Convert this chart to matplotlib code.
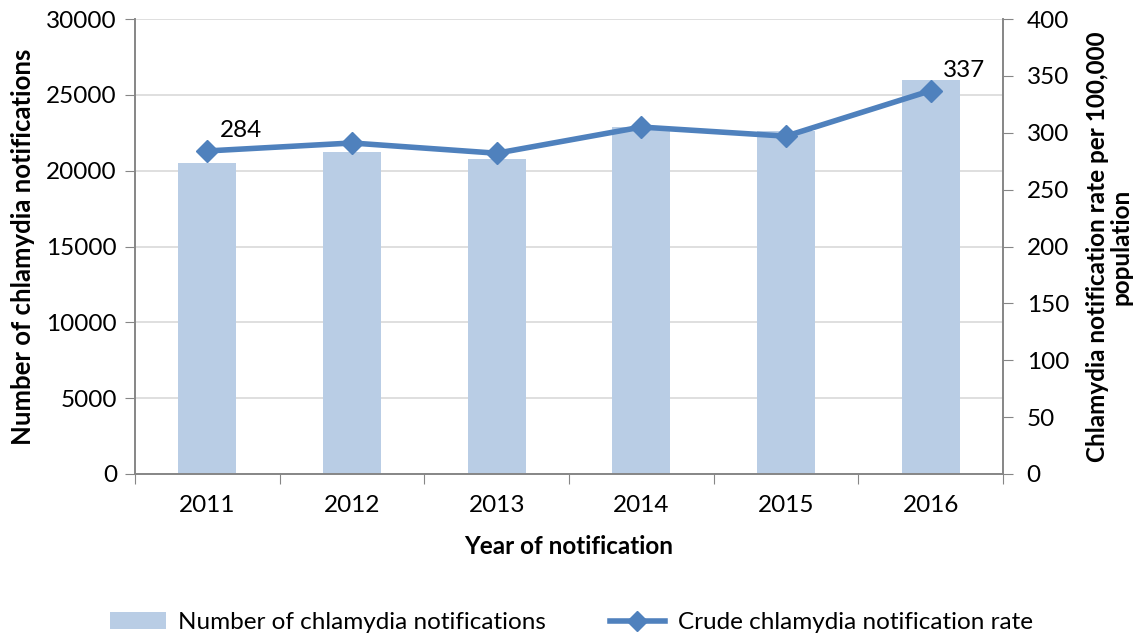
import numpy as np
import matplotlib
matplotlib.use("Agg")
import matplotlib.pyplot as plt
from matplotlib.lines import Line2D
from matplotlib.patches import Patch

# data
years = ["2011", "2012", "2013", "2014", "2015", "2016"]
notifications = [20500, 21200, 20800, 22900, 22600, 26000]
rates = [284, 291, 282, 305, 297, 337]
labelled = {0: "284", 5: "337"}

bar_color = "#B9CDE5"
line_color = "#4F81BD"
axis_color = "#868686"
grid_color = "#D9D9D9"
fs = 17.5

plt.rcParams["font.family"] = ["Lato", "DejaVu Sans"]

fig = plt.figure(figsize=(11.43, 6.35), dpi=100)
ax = fig.add_axes([135 / 1143, 1 - 474 / 635, (1003 - 135) / 1143, (474 - 19) / 635])
ax2 = ax.twinx()

x = np.arange(len(years))
ax.bar(x, notifications, width=0.4, color=bar_color, zorder=2)
ax.set_xlim(-0.5, len(years) - 0.5)
ax.set_ylim(0, 30000)
ax.set_yticks(np.arange(0, 30001, 5000))
ax.yaxis.grid(True, color=grid_color, linewidth=1.2, zorder=0)
ax.set_axisbelow(True)

# category ticks sit between the years
ax.set_xticks(np.arange(-0.5, len(years), 1.0))
ax.set_xticklabels([])
ax.set_xticks(x, minor=True)
ax.set_xticklabels(years, minor=True)
ax.tick_params(axis="x", which="major", length=7, color=axis_color, direction="out")
ax.tick_params(axis="x", which="minor", length=0, pad=15, labelsize=fs)
ax.tick_params(axis="y", length=7, color=axis_color, labelsize=fs, pad=6)

ax2.plot(x, rates, color=line_color, linewidth=4, marker="D", markersize=11, zorder=3)
ax2.set_ylim(0, 400)
ax2.set_yticks(np.arange(0, 401, 50))
ax2.tick_params(axis="y", length=7, color=axis_color, labelsize=fs, pad=10)
for i, txt in labelled.items():
    ax2.annotate(txt, (x[i], rates[i]), xytext=(9, 7), textcoords="offset points",
                 fontsize=fs, ha="left", va="bottom")

for a in (ax, ax2):
    a.spines["top"].set_visible(False)
    for s in ("left", "right", "bottom"):
        a.spines[s].set_color(axis_color)
        a.spines[s].set_linewidth(1.2)

ax.set_xlabel("Year of notification", fontsize=fs, fontweight="bold", labelpad=14)
ax.set_ylabel("Number of chlamydia notifications", fontsize=18.5, fontweight="bold", labelpad=8)
ax2.set_ylabel("Chlamydia notification rate per 100,000\npopulation", fontsize=fs,
               fontweight="bold", rotation=90, labelpad=12, linespacing=1.05)

handles = [Patch(facecolor=bar_color, edgecolor="none"),
           Line2D([], [], color=line_color, linewidth=4, marker="D", markersize=10)]
fig.legend(handles, ["Number of chlamydia notifications", "Crude chlamydia notification rate"],
           loc="lower center", bbox_to_anchor=(0.5, -0.032), ncol=2, frameon=False,
           fontsize=fs, columnspacing=2.6, handlelength=2.3, handletextpad=0.5)

fig.savefig("out.png", dpi=100)
